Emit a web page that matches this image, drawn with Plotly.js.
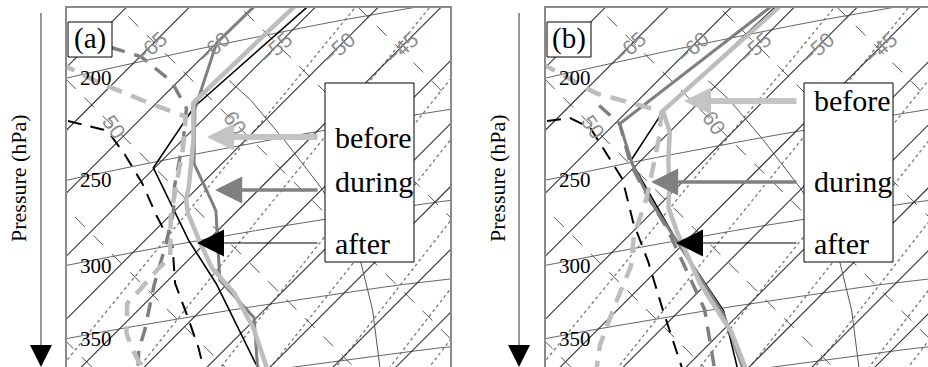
<!DOCTYPE html>
<html><head><meta charset="utf-8">
<script src="https://cdn.plot.ly/plotly-3.0.1.min.js"></script>
<style>html,body{margin:0;padding:0;background:#fff;}#chart{width:928px;height:367px;}</style>
</head><body><div id="chart"></div>
<script>
// ---------- sounding data (temperature °C, pressure hPa) ----------
// panel (a)
const beforeT_a_T  = [-56.7,-57.1,-54.2,-50.8,-50.0,-48.8,-45.7,-42.5,-38.8,-34.5,-29.5];
const beforeT_a_p  = [189,224,242,267,274,282,300,319,338,365,403];
const duringT_a_T  = [-59.9,-60.0,-56.5,-52.2,-47.6,-46.7,-40.9,-35.2,-31.3,-30.2];
const duringT_a_p  = [186,199,227,255,279,284,328,358,393,402];
const afterT_a_T   = [-55.6,-56.7,-55.1,-46.5,-40.9,-31.4,-29.9];
const afterT_a_p   = [190,226,253,299,330,393,403];
const beforeTd_a_T = [-70.8,-66.3,-60.5,-56.6,-54.4,-51.5,-49.9,-46.7,-46.7,-46.5,-46.4,-44.1,-42.6,-39.3];
const beforeTd_a_p = [193,205,220,230,245,268,282,307,314,324,333,354,365,388];
const duringTd_a_T = [-68.1,-64.9,-60.5,-57.2,-55.0,-52.0,-50.0,-48.0,-45.7,-44.0,-42.9,-41.8,-39.9];
const duringTd_a_p = [191,198,212,226,241,265,280,299,324,342,354,368,387];
const afterTd_a_T  = [-65.6,-62.1,-61.2,-58.4,-54.8,-51.1,-47.3,-44.2,-40.5,-37.2,-34.5];
const afterTd_a_p  = [220,228,231,243,260,280,301,325,350,374,396];
// panel (b)
const beforeT_b_T  = [-56.2,-57.2,-55.0,-52.8,-50.7,-49.1,-46.4,-40.6,-34.1,-29.5];
const beforeT_b_p  = [190,227,238,253,267,279,295,330,369,403];
const duringT_b_T  = [-56.8,-59.6,-55.4,-51.1,-45.8,-36.3,-29.7];
const duringT_b_p  = [189,229,251,273,300,354,403];
const afterT_b_T   = [-56.5,-57.1,-55.8,-45.8,-36.5,-30.1];
const afterT_b_p   = [190,228,249,300,352,403];
const beforeTd_b_T = [-70.7,-63.9,-57.3,-55.5,-53.0,-51.5,-49.6,-47.4,-45.6,-43.6,-41.6];
const beforeTd_b_p = [193,212,227,239,259,272,292,311,335,362,384];
const duringTd_b_T = [-62.7,-59.6,-55.5,-51.7,-47.6,-42.0,-38.1,-34.3,-32.0];
const duringTd_b_p = [218,229,251,270,291,324,349,380,400];
const afterTd_b_T  = [-65.6,-64.0,-61.6,-58.9,-55.0,-50.7,-46.4,-41.3,-37.6,-34.5];
const afterTd_b_p  = [220,221,228,240,258,284,310,345,372,396];
// curved reference line of the diagram
const refCurve_T = [-56.0,-52.8,-47.0,-40.2,-35.3,-31.1,-26.4,-21.3,-20.0];
const refCurve_p = [217,228,251,281,306,331,365,409,420];

// diagram grid values
const isotherms  = [-100,-95,-90,-85,-80,-75,-70,-65,-60,-55,-50,-45,-40,-35,-30,-25,-20,-15,-10,-5,0,5,10];
const thetaLines = [0,10,20,30,40,50,60,70,80,90,100,110,120];
const isobars    = [100,150,200,250,300,350,400,450,500];
const mixRatios  = [0.1,0.2,0.4,0.6,1,1.5,2,3];
const isoLabels  = [-65,-60,-55,-50,-45];
const pLabels    = [200,250,300,350];
const thetaLabels= [[50,-61.5],[60,-52.2]];
const profileNames = ['before','during','after'];

// ---------- tephigram projection ----------
const KAPPA=0.286, A=8.9, B=2900, S0=664.5, PHI0=-16807.6, R2=Math.SQRT2;
function projPhi(T,phi){const s=S0+A*T,t=PHI0+B*phi;return [(s+t)/R2,(s-t)/R2];}
function proj(T,p){return projPhi(T,Math.log(T+273.15)+KAPPA*Math.log(1000/p));}

const traces=[];
const panels=[['x','y'],['x2','y2']];
function add(pts,pi,line){traces.push({type:'scatter',mode:'lines',x:pts.map(q=>q[0]),y:pts.map(q=>q[1]),xaxis:panels[pi][0],yaxis:panels[pi][1],line:line,hoverinfo:'skip',showlegend:false});}
function addProfile(Ts,ps,pi,line){add(Ts.map((T,i)=>proj(T,ps[i])),pi,line);}

for(let pi=0;pi<2;pi++){
  isobars.forEach(p=>{const pts=[];for(let T=-110;T<=20;T+=2)pts.push(proj(T,p));add(pts,pi,{color:'#555',width:0.9});});
  mixRatios.forEach(w=>{const pts=[];for(let p=100;p<=600;p+=10){const e=w*p/(622+w);const L=Math.log(e/6.112);pts.push(proj(272.62*L/(22.46-L),p));}add(pts,pi,{color:'#777',width:1.3,dash:'dot'});});
  thetaLines.forEach(th=>{const phi=Math.log(th+273.15);add([projPhi(-110,phi),projPhi(20,phi)],pi,{color:'#555',width:1,dash:'14px,12px'});});
  isotherms.forEach(T=>{add([projPhi(T,5.55),projPhi(T,6.05)],pi,{color:'#333',width:1.1});});
  addProfile(refCurve_T,refCurve_p,pi,{color:'#555',width:1});
}
const cBefore='#bdbdbd', cDuring='#7f7f7f', cAfter='#000';
// panel a profiles
addProfile(afterTd_a_T,afterTd_a_p,0,{color:cAfter,width:2,dash:'14px,9px'});
addProfile(afterT_a_T,afterT_a_p,0,{color:cAfter,width:1.6});
addProfile(duringTd_a_T,duringTd_a_p,0,{color:cDuring,width:3.5,dash:'15px,10px'});
addProfile(duringT_a_T,duringT_a_p,0,{color:cDuring,width:3});
addProfile(beforeTd_a_T,beforeTd_a_p,0,{color:cBefore,width:4.5,dash:'16px,10px'});
addProfile(beforeT_a_T,beforeT_a_p,0,{color:cBefore,width:4.5});
// panel b profiles
addProfile(afterTd_b_T,afterTd_b_p,1,{color:cAfter,width:2,dash:'14px,9px'});
addProfile(afterT_b_T,afterT_b_p,1,{color:cAfter,width:1.6});
addProfile(duringTd_b_T,duringTd_b_p,1,{color:cDuring,width:3.5,dash:'15px,10px'});
addProfile(duringT_b_T,duringT_b_p,1,{color:cDuring,width:3});
addProfile(beforeTd_b_T,beforeTd_b_p,1,{color:cBefore,width:4.5,dash:'16px,10px'});
addProfile(beforeT_b_T,beforeT_b_p,1,{color:cBefore,width:4.5});

// ---------- text, arrows, boxes ----------
const ann=[], shapes=[];
const serif='"Liberation Serif", serif', sans='"Liberation Sans", sans-serif';
function isobarYat(p,X){let best=null;for(let T=-110;T<=20;T+=0.05){const q=proj(T,p);if(best===null||Math.abs(q[0]-X)<Math.abs(best[0]-X))best=q;}return best[1];}
for(let pi=0;pi<2;pi++){
  const xr=panels[pi][0], yr=panels[pi][1];
  isoLabels.forEach(T=>{const X=R2*(S0+A*T)-38;ann.push({xref:xr,yref:yr,x:X,y:40,text:'\u2212'+Math.abs(T),showarrow:false,textangle:-42,font:{family:sans,size:21,color:'#8c8c8c'}});});
  thetaLabels.forEach(([th,T])=>{const q=projPhi(T,Math.log(th+273.15));ann.push({xref:xr,yref:yr,x:q[0],y:q[1],text:String(th),showarrow:false,textangle:55,font:{family:sans,size:21,color:'#8c8c8c'}});});
  pLabels.forEach(p=>{ann.push({xref:xr,yref:yr,x:11,y:isobarYat(p,23)+5,xanchor:'left',yanchor:'middle',text:String(p),showarrow:false,font:{family:serif,size:21,color:'#000'}});});
  shapes.push({type:'rect',xref:xr,yref:yr,x0:258,x1:347,y0:75,y1:254,fillcolor:'#fff',line:{color:'#000',width:1},layer:'above'});
  shapes.push({type:'rect',xref:xr,yref:yr,x0:1,x1:45,y0:14,y1:49,fillcolor:'#fff',line:{color:'#000',width:1},layer:'above'});
  ann.push({xref:xr,yref:yr,x:23,y:31,text:pi===0?'(a)':'(b)',showarrow:false,font:{family:serif,size:29,color:'#000'}});
  const textY = pi===0?[129,173,235]:[92,173,235];
  profileNames.forEach((nm,i)=>ann.push({xref:xr,yref:yr,x:266,y:textY[i],xanchor:'left',yanchor:'middle',text:nm,showarrow:false,font:{family:serif,size:30,color:'#000'}}));
}
// arrows: [panel, tipX, y, color, width, size]
const arrows=[[0,133,129,'#c4c4c4',6,0.9],[0,141,182,'#808080',3.5,1.55],[0,123,235,'#000',1.2,4.5],
              [1,131,93,'#c4c4c4',6,0.9],[1,98,174,'#808080',3.5,1.55],[1,123,235,'#000',1.2,4.5]];
arrows.forEach(([pi,tx,y,c,w,s])=>{ann.push({xref:panels[pi][0],yref:panels[pi][1],axref:panels[pi][0],ayref:panels[pi][1],x:tx+1.3*w*s,y:y,ax:252,ay:y,text:'',showarrow:true,arrowhead:2,arrowsize:s,arrowwidth:w,arrowcolor:c,standoff:0});});
// pressure axis arrows and titles
[[41,18],[519,497]].forEach(([ax,tx])=>{
  shapes.push({type:'line',xref:'paper',yref:'paper',x0:ax/928,x1:ax/928,y0:1-13/367,y1:1-348/367,line:{color:'#333',width:1}});
  shapes.push({type:'path',xref:'paper',yref:'paper',path:`M ${(ax-11)/928} ${1-345/367} L ${(ax+11)/928} ${1-345/367} L ${ax/928} 0 Z`,fillcolor:'#000',line:{color:'#000',width:0}});
  ann.push({xref:'paper',yref:'paper',x:tx/928,y:1-178/367,xanchor:'center',yanchor:'middle',text:'Pressure (hPa)',textangle:-90,showarrow:false,font:{family:serif,size:22,color:'#000'}});
});

const ax0={showgrid:false,zeroline:false,showticklabels:false,ticks:'',fixedrange:true,linecolor:'#8a8a8a',linewidth:2};
const layout={width:928,height:367,margin:{l:0,r:0,t:0,b:0},paper_bgcolor:'#fff',plot_bgcolor:'#fff',showlegend:false,
 xaxis:Object.assign({},ax0,{domain:[67/928,450/928],range:[0,383],showline:true,side:'top'}),
 yaxis:Object.assign({},ax0,{domain:[0,359/367],range:[359,0],showline:true,mirror:true}),
 xaxis2:Object.assign({},ax0,{domain:[546/928,1],range:[0,382],showline:true,side:'top'}),
 yaxis2:Object.assign({},ax0,{domain:[0,359/367],range:[359,0],showline:true,mirror:false,anchor:'x2'}),
 annotations:ann,shapes:shapes};
Plotly.newPlot('chart',traces,layout,{staticPlot:true});
</script></body></html>
